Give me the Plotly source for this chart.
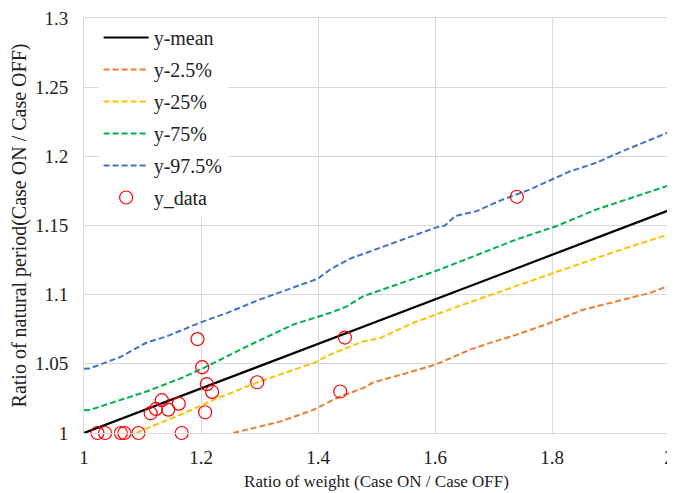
import plotly.graph_objects as go

# values
mean_x = [1.0, 2.0]
mean_y = [1.0, 1.161]

p025_x = [1.255, 1.300, 1.335, 1.392, 1.437, 1.477, 1.494, 1.551, 1.600, 1.659, 1.693, 1.739, 1.796, 1.853, 1.910, 1.967, 2.0]
p025_y = [1.0, 1.0046, 1.0082, 1.0167, 1.0263, 1.0324, 1.0365, 1.0433, 1.0493, 1.0601, 1.065, 1.071, 1.0795, 1.0891, 1.0951, 1.1012, 1.1065]

p25_x = [1.09, 1.107, 1.164, 1.221, 1.300, 1.392, 1.420, 1.477, 1.506, 1.562, 1.648, 1.739, 1.819, 1.910, 2.0]
p25_y = [1.0, 1.0034, 1.013, 1.0239, 1.0372, 1.0505, 1.0565, 1.0662, 1.0686, 1.0795, 1.0928, 1.106, 1.1181, 1.1314, 1.1437]

p75_x = [1.0, 1.010, 1.107, 1.164, 1.204, 1.278, 1.357, 1.420, 1.449, 1.477, 1.534, 1.600, 1.659, 1.739, 1.807, 1.876, 2.0]
p75_y = [1.0165, 1.0167, 1.030, 1.0393, 1.0469, 1.0625, 1.0783, 1.0867, 1.0915, 1.0988, 1.1072, 1.1169, 1.1266, 1.1399, 1.1495, 1.1616, 1.179]

p975_x = [1.0, 1.010, 1.062, 1.107, 1.141, 1.181, 1.201, 1.244, 1.300, 1.400, 1.420, 1.454, 1.506, 1.557, 1.600, 1.617, 1.634, 1.671, 1.716, 1.762, 1.807, 1.830, 1.876, 1.921, 2.0]
p975_y = [1.0464, 1.0467, 1.0549, 1.0654, 1.0698, 1.077, 1.0802, 1.0867, 1.0964, 1.1116, 1.118, 1.1259, 1.1338, 1.1418, 1.1483, 1.150, 1.1568, 1.1604, 1.1688, 1.176, 1.1846, 1.189, 1.1954, 1.2038, 1.2175]

data_x = [1.023, 1.036, 1.063, 1.069, 1.093, 1.167, 1.114, 1.123, 1.133, 1.144, 1.162,
          1.194, 1.202, 1.210, 1.219, 1.207, 1.296, 1.438, 1.446, 1.740]
data_y = [1.0, 1.0, 1.0, 1.0, 1.0, 1.0, 1.0143, 1.0174, 1.0237, 1.0169, 1.0212,
          1.0679, 1.0476, 1.0353, 1.0297, 1.015, 1.0367, 1.030, 1.069, 1.1708]

serif = "Liberation Serif"
dash = "6px,3px"
fig = go.Figure()
fig.add_trace(go.Scatter(x=mean_x, y=mean_y, mode="lines", name="y-mean", legendgroup="a",
                         line=dict(color="black", width=2.2)))
fig.add_trace(go.Scatter(x=p025_x, y=p025_y, mode="lines", name="y-2.5%", legendgroup="b",
                         line=dict(color="#ED7D31", width=2, dash=dash)))
fig.add_trace(go.Scatter(x=p25_x, y=p25_y, mode="lines", name="y-25%", legendgroup="c",
                         line=dict(color="#FFC000", width=2, dash=dash)))
fig.add_trace(go.Scatter(x=p75_x, y=p75_y, mode="lines", name="y-75%", legendgroup="d",
                         line=dict(color="#00B050", width=2, dash=dash)))
fig.add_trace(go.Scatter(x=p975_x, y=p975_y, mode="lines", name="y-97.5%", legendgroup="e",
                         line=dict(color="#4472C4", width=2, dash=dash)))
fig.add_trace(go.Scatter(x=data_x, y=data_y, mode="markers", name="y_data", legendgroup="f",
                         marker=dict(symbol="circle-open", size=13, color="red", line=dict(width=1.2)),
                         cliponaxis=False))

fig.update_layout(
    width=675, height=493,
    font=dict(family=serif, size=19, color="#222"),
    plot_bgcolor="white", paper_bgcolor="white",
    margin=dict(l=76, r=14, t=10, b=68, autoexpand=False),
    legend=dict(x=0.025, y=1.0, xanchor="left", yanchor="top", bgcolor="white",
                font=dict(family=serif, size=20), tracegroupgap=3, itemwidth=45),
    xaxis=dict(range=[1, 2], tickvals=[1, 1.2, 1.4, 1.6, 1.8, 2], ticktext=["1", "1.2", "1.4", "1.6", "1.8", "2"],
               tickfont=dict(family=serif, size=19), ticklabelstandoff=7, ticklabeloverflow="allow",
               showgrid=True, gridcolor="#d9d9d9", zeroline=False, showline=True, linecolor="#d9d9d9", mirror=True,
               ticks="", automargin=False,
               title=dict(text="Ratio of weight (Case ON / Case OFF)",
                          font=dict(family=serif, size=17), standoff=8)),
    yaxis=dict(range=[1, 1.3], tickvals=[1, 1.05, 1.1, 1.15, 1.2, 1.25, 1.3],
               ticktext=["1", "1.05", "1.1", "1.15", "1.2", "1.25", "1.3"],
               tickfont=dict(family=serif, size=19), ticklabelstandoff=11, ticklabeloverflow="allow",
               showgrid=True, gridcolor="#d9d9d9", zeroline=False, showline=True, linecolor="#d9d9d9", mirror=True,
               ticks="", automargin=False,
               title=dict(text="Ratio of natural period(Case ON / Case OFF)",
                          font=dict(family=serif, size=20), standoff=15)),
)

fig.write_html("out.html")
